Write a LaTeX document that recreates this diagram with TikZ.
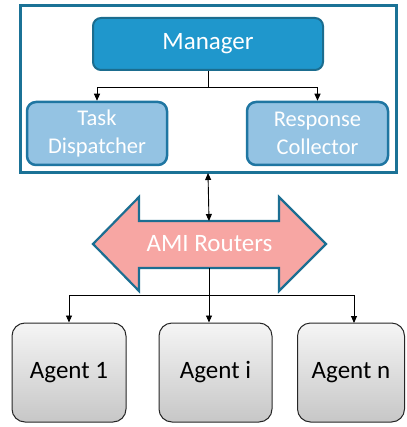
\documentclass[tikz,border=0pt]{standalone}
\usepackage{fontspec}
\setmainfont{Carlito}
\usetikzlibrary{arrows.meta}
\definecolor{mgrfill}{HTML}{1F97CC}
\definecolor{mgrline}{HTML}{1B6D8F}
\definecolor{subfill}{HTML}{94C3E3}
\definecolor{subline}{HTML}{1F76A2}
\definecolor{outline}{HTML}{1B7296}
\definecolor{amifill}{HTML}{F7A6A3}
\definecolor{amiline}{HTML}{1C6E92}
\newcommand{\lowtext}[1]{\raisebox{-3pt}{#1}}
\tikzset{
  mgrbox/.style={draw=mgrline, line width=2pt, fill=mgrfill, rounded corners=8pt, text=white, font=\fontsize{25}{30}\selectfont, inner sep=0pt},
  subbox/.style={draw=subline, line width=2.5pt, fill=subfill, rounded corners=9pt, text=white, font=\fontsize{22.5}{28}\selectfont, align=center, inner sep=0pt, minimum height=63pt},
  agentbox/.style={draw=black!85, line width=1pt, top color=white!96!black, bottom color=black!22, rounded corners=13pt, font=\fontsize{25}{30}\selectfont, inner sep=0pt, minimum height=99pt},
  conn/.style={line width=0.9pt, -{Triangle[length=7pt,width=6pt]}},
}
\begin{document}
\begin{tikzpicture}[x=1pt,y=-1pt]
\useasboundingbox (0,0) rectangle (406,427);
% outer frame
\node[draw=outline, line width=3pt, minimum width=376pt, minimum height=167pt, inner sep=0pt] (frame) at (208,89.5) {};
\node[mgrbox, minimum width=230pt, minimum height=52pt] (mgr) at (208,44) {Manager};
\node[subbox, minimum width=140pt] (task) at (97,133.5) {Task\\Dispatcher};
\node[subbox, minimum width=141pt] (resp) at (317.5,133.5) {Response\\Collector};
\draw[conn] (mgr.south) -- ++(0,16) -| (task.north);
\draw[conn] (mgr.south) -- ++(0,16) -| (resp.north);
% AMI routers arrow
\filldraw[fill=amifill, draw=amiline, line width=2.2pt, line join=miter]
  (93,244) -- (139,197) -- (139,221) -- (279,221) -- (279,197) -- (326,244)
  -- (279,291) -- (279,268) -- (139,268) -- (139,291) -- cycle;
\node[text=white, font=\fontsize{25}{30}\selectfont] (ami) at (209.5,244) {AMI Routers};
\coordinate (amitop) at (209,221);
\coordinate (amibot) at (209,268);
\coordinate (frametop) at (208,173);
\draw[line width=0.9pt, {Triangle[length=7pt,width=6pt]}-{Triangle[length=7pt,width=6pt]}] (frametop) -- (amitop);
% agents
\node[agentbox, minimum width=114pt] (a1) at (69,372.5) {\lowtext{Agent 1}};
\node[agentbox, minimum width=113pt] (ai) at (215.5,372.5) {\lowtext{Agent i}};
\node[agentbox, minimum width=107pt] (an) at (351,372.5) {\lowtext{Agent n}};
\coordinate (split) at (209,295);
\coordinate (ntop) at (354,323);
\draw[conn] (amibot) -- (split) -| (a1.north);
\draw[conn] (amibot) -- (ai.north -| amibot);
\draw[conn] (split) -| (ntop);
\end{tikzpicture}
\end{document}
